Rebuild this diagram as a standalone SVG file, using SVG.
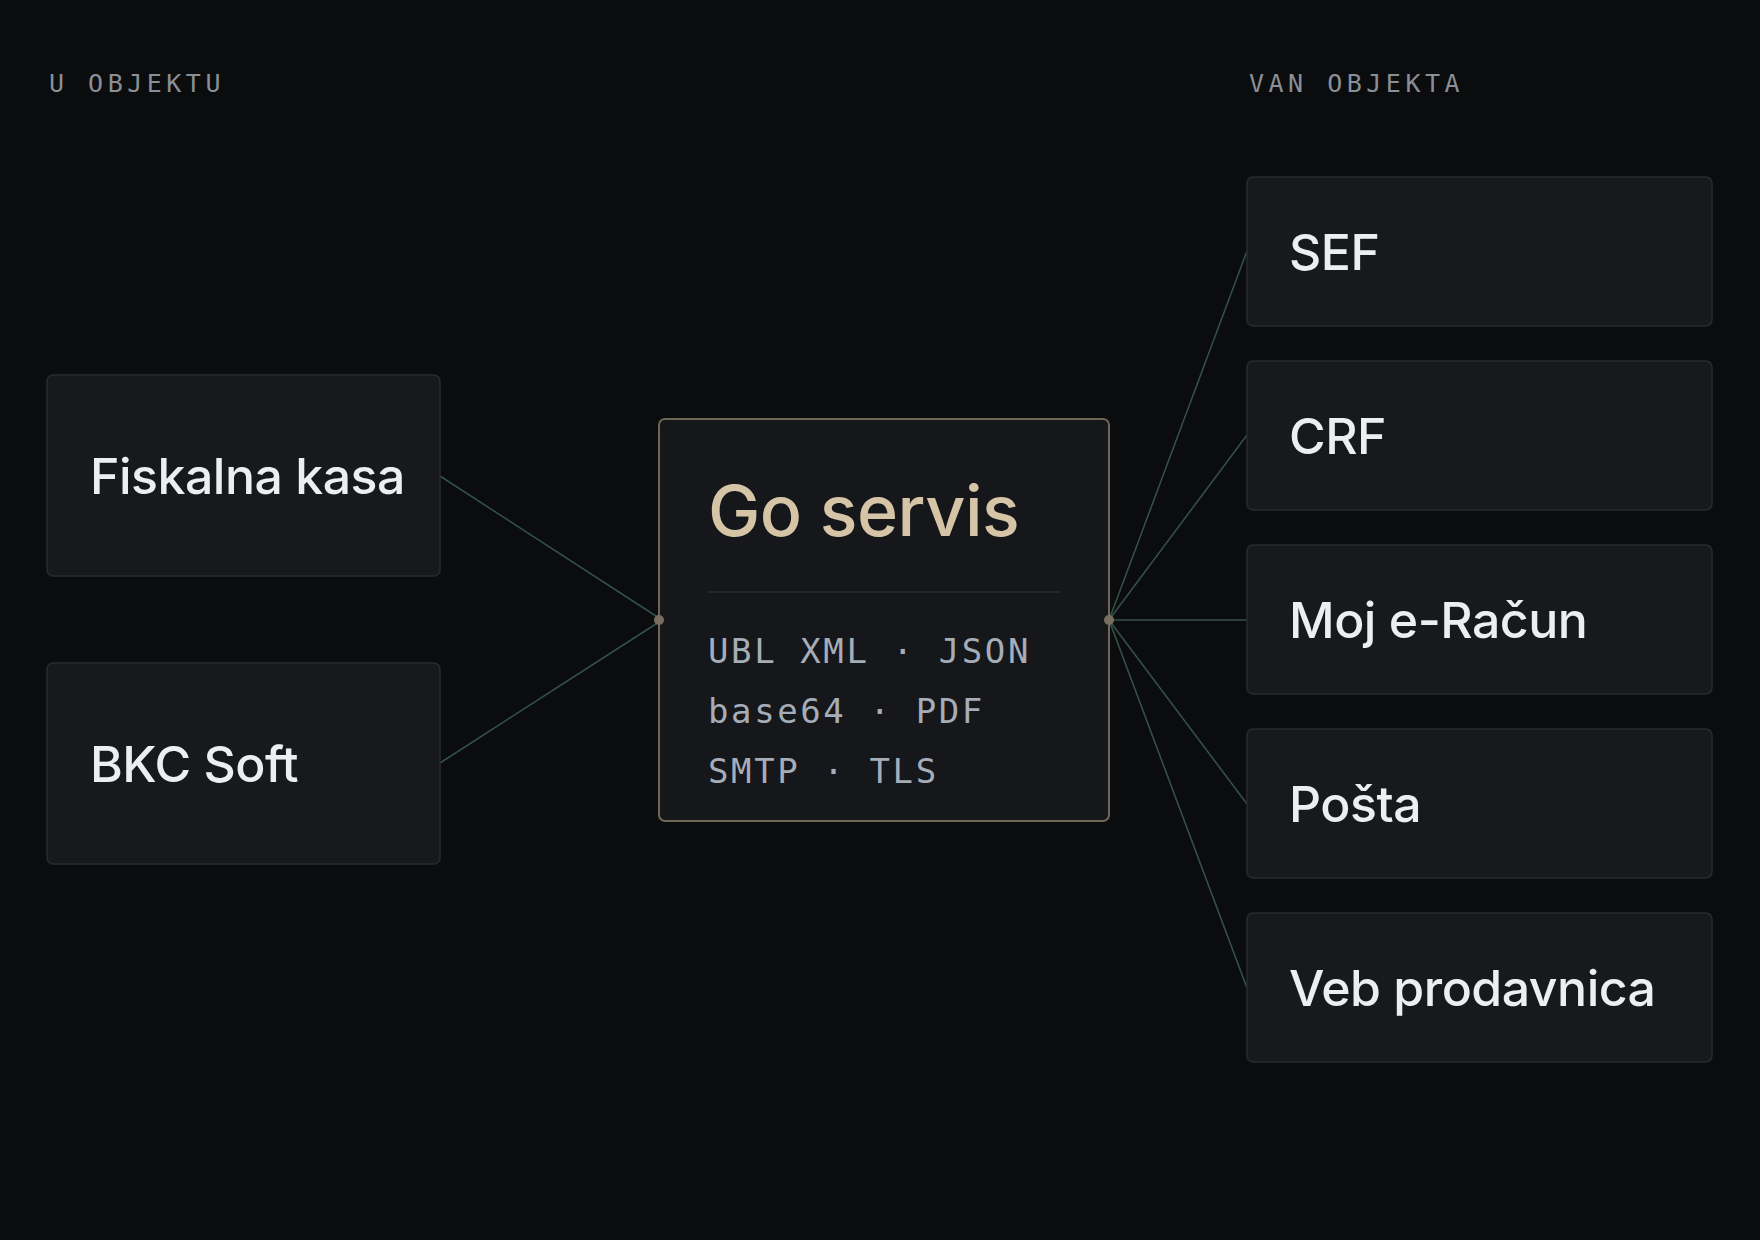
<svg xmlns="http://www.w3.org/2000/svg" width="1760" height="1240" viewBox="0 0 1760 1240">
<defs>
<style>
.bg{fill:#0b0c0e}
.node rect{fill:#17191d;stroke:#272a2f;stroke-width:1.5}
.lbl{font-family:Inter,"Liberation Sans",sans-serif;font-size:50px;font-weight:500;fill:#eceef1;letter-spacing:-0.5px}
.sec{font-family:"DejaVu Sans Mono","Liberation Mono",monospace;font-size:25px;fill:#8a8f96;letter-spacing:4.5px}
.mono{font-family:"DejaVu Sans Mono","Liberation Mono",monospace;font-size:34px;fill:#a5adb8;letter-spacing:2.6px}
.conn line{stroke:#34524a;stroke-width:1.5}
.dot{fill:#7a6e5e}
</style>
</defs>
<rect class="bg" x="0" y="0" width="1760" height="1240"/>
<text class="sec" x="49" y="92">U OBJEKTU</text>
<text class="sec" x="1249" y="92">VAN OBJEKTA</text>
<g id="connectors" class="conn">
<line x1="440" y1="476" x2="659" y2="618"/>
<line x1="440" y1="763" x2="659" y2="622"/>
<line x1="1109" y1="620" x2="1247" y2="251"/>
<line x1="1109" y1="620" x2="1247" y2="435"/>
<line x1="1109" y1="620" x2="1247" y2="620"/>
<line x1="1109" y1="620" x2="1247" y2="804"/>
<line x1="1109" y1="620" x2="1247" y2="988"/>
</g>
<g id="fiskalna" class="node"><rect x="47" y="375" width="393" height="201" rx="6"/><text class="lbl" x="90" y="494">Fiskalna kasa</text></g>
<g id="bkc" class="node"><rect x="47" y="663" width="393" height="201" rx="6"/><text class="lbl" x="90" y="782">BKC Soft</text></g>
<g id="goservis">
<rect x="659" y="419" width="450" height="402" rx="6" fill="#15171a" stroke="#6f6656" stroke-width="2"/>
<text x="708" y="536" font-family="Inter,'Liberation Sans',sans-serif" font-size="70" font-weight="500" fill="#d5c4a6" letter-spacing="-0.5">Go servis</text>
<line x1="708" y1="592" x2="1060" y2="592" stroke="#24272c" stroke-width="2"/>
<text class="mono" x="708" y="663">UBL XML · JSON</text>
<text class="mono" x="708" y="723">base64 · PDF</text>
<text class="mono" x="708" y="783">SMTP · TLS</text>
</g>
<circle class="dot" cx="659" cy="620" r="5"/>
<circle class="dot" cx="1109" cy="620" r="5"/>
<g id="sef" class="node"><rect x="1247" y="177" width="465" height="149" rx="6"/><text class="lbl" x="1289" y="270">SEF</text></g>
<g id="crf" class="node"><rect x="1247" y="361" width="465" height="149" rx="6"/><text class="lbl" x="1289" y="454">CRF</text></g>
<g id="moj" class="node"><rect x="1247" y="545" width="465" height="149" rx="6"/><text class="lbl" x="1289" y="638">Moj e-Račun</text></g>
<g id="posta" class="node"><rect x="1247" y="729" width="465" height="149" rx="6"/><text class="lbl" x="1289" y="822">Pošta</text></g>
<g id="veb" class="node"><rect x="1247" y="913" width="465" height="149" rx="6"/><text class="lbl" x="1289" y="1006">Veb prodavnica</text></g>
</svg>
